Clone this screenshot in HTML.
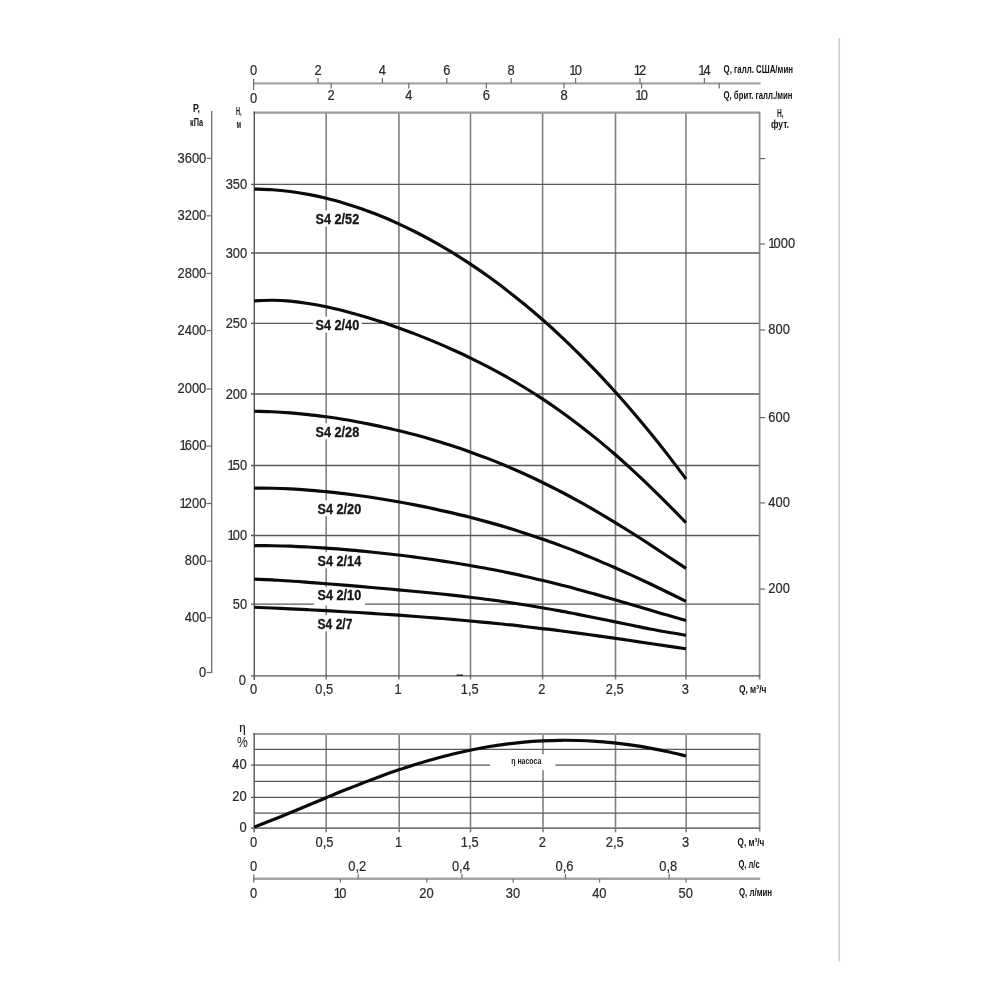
<!DOCTYPE html>
<html lang="ru"><head><meta charset="utf-8"><title>S4 2</title>
<style>
html,body{margin:0;padding:0;background:#fff;}
body{width:1000px;height:1000px;overflow:hidden;}
svg{display:block;font-family:"Liberation Sans",sans-serif;}
</style></head><body>
<svg width="1000" height="1000" viewBox="0 0 1000 1000">
<rect width="1000" height="1000" fill="#fff"/>
<line x1="839.3" y1="38" x2="839.3" y2="961.5" stroke="#cdcdcd" stroke-width="1.5"/>
<line x1="253.2" y1="83.39999999999999" x2="760.6" y2="83.39999999999999" stroke="#a4a4a4" stroke-width="2.4"/>
<line x1="253.6" y1="79" x2="253.6" y2="90" stroke="#6a6a6a" stroke-width="1.2"/>
<text transform="translate(253.6,75) scale(0.89,1)" text-anchor="middle" font-size="14.5" font-weight="normal" fill="#2b2b2b" stroke="#2b2b2b" stroke-width="0.22">0</text>
<line x1="318.0" y1="78" x2="318.0" y2="83.3" stroke="#6a6a6a" stroke-width="1.2"/>
<text transform="translate(318.0,75) scale(0.89,1)" text-anchor="middle" font-size="14.5" font-weight="normal" fill="#2b2b2b" stroke="#2b2b2b" stroke-width="0.22">2</text>
<line x1="382.4" y1="78" x2="382.4" y2="83.3" stroke="#6a6a6a" stroke-width="1.2"/>
<text transform="translate(382.4,75) scale(0.89,1)" text-anchor="middle" font-size="14.5" font-weight="normal" fill="#2b2b2b" stroke="#2b2b2b" stroke-width="0.22">4</text>
<line x1="446.8" y1="78" x2="446.8" y2="83.3" stroke="#6a6a6a" stroke-width="1.2"/>
<text transform="translate(446.8,75) scale(0.89,1)" text-anchor="middle" font-size="14.5" font-weight="normal" fill="#2b2b2b" stroke="#2b2b2b" stroke-width="0.22">6</text>
<line x1="511.20000000000005" y1="78" x2="511.20000000000005" y2="83.3" stroke="#6a6a6a" stroke-width="1.2"/>
<text transform="translate(511.2,75) scale(0.89,1)" text-anchor="middle" font-size="14.5" font-weight="normal" fill="#2b2b2b" stroke="#2b2b2b" stroke-width="0.22">8</text>
<line x1="575.6" y1="78" x2="575.6" y2="83.3" stroke="#6a6a6a" stroke-width="1.2"/>
<text transform="translate(575.6,75) scale(0.89,1)" text-anchor="middle" font-size="14.5" font-weight="normal" fill="#2b2b2b" stroke="#2b2b2b" stroke-width="0.22"><tspan letter-spacing="-2.1">1</tspan>0</text>
<line x1="640.0" y1="78" x2="640.0" y2="83.3" stroke="#6a6a6a" stroke-width="1.2"/>
<text transform="translate(640.0,75) scale(0.89,1)" text-anchor="middle" font-size="14.5" font-weight="normal" fill="#2b2b2b" stroke="#2b2b2b" stroke-width="0.22"><tspan letter-spacing="-2.1">1</tspan>2</text>
<line x1="704.4000000000001" y1="78" x2="704.4000000000001" y2="83.3" stroke="#6a6a6a" stroke-width="1.2"/>
<text transform="translate(704.4,75) scale(0.89,1)" text-anchor="middle" font-size="14.5" font-weight="normal" fill="#2b2b2b" stroke="#2b2b2b" stroke-width="0.22"><tspan letter-spacing="-2.1">1</tspan>4</text>
<text transform="translate(253.6,103) scale(0.89,1)" text-anchor="middle" font-size="14.5" font-weight="normal" fill="#2b2b2b" stroke="#2b2b2b" stroke-width="0.22">0</text>
<line x1="331.2" y1="83.3" x2="331.2" y2="88.5" stroke="#6a6a6a" stroke-width="1.2"/>
<text transform="translate(331.2,99.6) scale(0.89,1)" text-anchor="middle" font-size="14.5" font-weight="normal" fill="#2b2b2b" stroke="#2b2b2b" stroke-width="0.22">2</text>
<line x1="408.8" y1="83.3" x2="408.8" y2="88.5" stroke="#6a6a6a" stroke-width="1.2"/>
<text transform="translate(408.8,99.6) scale(0.89,1)" text-anchor="middle" font-size="14.5" font-weight="normal" fill="#2b2b2b" stroke="#2b2b2b" stroke-width="0.22">4</text>
<line x1="486.4" y1="83.3" x2="486.4" y2="88.5" stroke="#6a6a6a" stroke-width="1.2"/>
<text transform="translate(486.4,99.6) scale(0.89,1)" text-anchor="middle" font-size="14.5" font-weight="normal" fill="#2b2b2b" stroke="#2b2b2b" stroke-width="0.22">6</text>
<line x1="564.0" y1="83.3" x2="564.0" y2="88.5" stroke="#6a6a6a" stroke-width="1.2"/>
<text transform="translate(564.0,99.6) scale(0.89,1)" text-anchor="middle" font-size="14.5" font-weight="normal" fill="#2b2b2b" stroke="#2b2b2b" stroke-width="0.22">8</text>
<line x1="641.6" y1="83.3" x2="641.6" y2="88.5" stroke="#6a6a6a" stroke-width="1.2"/>
<text transform="translate(641.6,99.6) scale(0.89,1)" text-anchor="middle" font-size="14.5" font-weight="normal" fill="#2b2b2b" stroke="#2b2b2b" stroke-width="0.22"><tspan letter-spacing="-2.1">1</tspan>0</text>
<line x1="719.2" y1="83.3" x2="719.2" y2="88.5" stroke="#6a6a6a" stroke-width="1.2"/>
<text x="723.5" y="72.6" text-anchor="start" font-size="10.5" font-weight="bold" fill="#111" textLength="69.5" lengthAdjust="spacingAndGlyphs">Q, галл.  США/мин</text>
<text x="723.5" y="99.1" text-anchor="start" font-size="10.5" font-weight="bold" fill="#111" textLength="69" lengthAdjust="spacingAndGlyphs">Q, брит. галл./мин</text>
<text x="777" y="116.8" text-anchor="start" font-size="10.5" font-weight="bold" fill="#111" textLength="6.6" lengthAdjust="spacingAndGlyphs">Н,</text>
<text x="771" y="128" text-anchor="start" font-size="10" font-weight="bold" fill="#111" textLength="18" lengthAdjust="spacingAndGlyphs">фут.</text>
<line x1="326.2" y1="112.6" x2="326.2" y2="679.5" stroke="#808080" stroke-width="1.6"/>
<line x1="398.9" y1="112.6" x2="398.9" y2="679.5" stroke="#808080" stroke-width="1.6"/>
<line x1="470.5" y1="112.6" x2="470.5" y2="679.5" stroke="#808080" stroke-width="1.6"/>
<line x1="542.6" y1="112.6" x2="542.6" y2="679.5" stroke="#808080" stroke-width="1.6"/>
<line x1="615.5" y1="112.6" x2="615.5" y2="679.5" stroke="#808080" stroke-width="1.6"/>
<line x1="686" y1="112.6" x2="686" y2="679.5" stroke="#808080" stroke-width="1.6"/>
<line x1="251" y1="184.4" x2="759.6" y2="184.4" stroke="#585858" stroke-width="1.3"/>
<line x1="251" y1="253" x2="759.6" y2="253" stroke="#585858" stroke-width="1.3"/>
<line x1="251" y1="323.3" x2="759.6" y2="323.3" stroke="#585858" stroke-width="1.3"/>
<line x1="251" y1="394" x2="759.6" y2="394" stroke="#585858" stroke-width="1.3"/>
<line x1="251" y1="465.5" x2="759.6" y2="465.5" stroke="#585858" stroke-width="1.3"/>
<line x1="251" y1="535.5" x2="759.6" y2="535.5" stroke="#585858" stroke-width="1.3"/>
<line x1="251" y1="604.1" x2="759.6" y2="604.1" stroke="#585858" stroke-width="1.3"/>
<line x1="253.3" y1="112.6" x2="760.4" y2="112.6" stroke="#9a9a9a" stroke-width="2.2"/>
<line x1="759.6" y1="112.6" x2="759.6" y2="679.6" stroke="#878787" stroke-width="1.7"/>
<line x1="254.3" y1="111.6" x2="254.3" y2="680" stroke="#555" stroke-width="1.4"/>
<line x1="251" y1="675.8" x2="760.1" y2="675.8" stroke="#555" stroke-width="1.3"/>
<line x1="456.5" y1="675.2" x2="463" y2="675.2" stroke="#222" stroke-width="1.4"/>
<line x1="211.7" y1="111" x2="211.7" y2="673" stroke="#6a6a6a" stroke-width="1.3"/>
<line x1="206.5" y1="158.4" x2="211.7" y2="158.4" stroke="#6a6a6a" stroke-width="1.2"/>
<text transform="translate(206.3,162.5) scale(0.89,1)" text-anchor="end" font-size="14.5" font-weight="normal" fill="#2b2b2b" stroke="#2b2b2b" stroke-width="0.22">3600</text>
<line x1="206.5" y1="215.8" x2="211.7" y2="215.8" stroke="#6a6a6a" stroke-width="1.2"/>
<text transform="translate(206.3,219.9) scale(0.89,1)" text-anchor="end" font-size="14.5" font-weight="normal" fill="#2b2b2b" stroke="#2b2b2b" stroke-width="0.22">3200</text>
<line x1="206.5" y1="273.4" x2="211.7" y2="273.4" stroke="#6a6a6a" stroke-width="1.2"/>
<text transform="translate(206.3,277.5) scale(0.89,1)" text-anchor="end" font-size="14.5" font-weight="normal" fill="#2b2b2b" stroke="#2b2b2b" stroke-width="0.22">2800</text>
<line x1="206.5" y1="330.6" x2="211.7" y2="330.6" stroke="#6a6a6a" stroke-width="1.2"/>
<text transform="translate(206.3,334.7) scale(0.89,1)" text-anchor="end" font-size="14.5" font-weight="normal" fill="#2b2b2b" stroke="#2b2b2b" stroke-width="0.22">2400</text>
<line x1="206.5" y1="389" x2="211.7" y2="389" stroke="#6a6a6a" stroke-width="1.2"/>
<text transform="translate(206.3,393.1) scale(0.89,1)" text-anchor="end" font-size="14.5" font-weight="normal" fill="#2b2b2b" stroke="#2b2b2b" stroke-width="0.22">2000</text>
<line x1="206.5" y1="446.1" x2="211.7" y2="446.1" stroke="#6a6a6a" stroke-width="1.2"/>
<text transform="translate(206.3,450.2) scale(0.89,1)" text-anchor="end" font-size="14.5" font-weight="normal" fill="#2b2b2b" stroke="#2b2b2b" stroke-width="0.22"><tspan letter-spacing="-2.1">1</tspan>600</text>
<line x1="206.5" y1="503.5" x2="211.7" y2="503.5" stroke="#6a6a6a" stroke-width="1.2"/>
<text transform="translate(206.3,507.6) scale(0.89,1)" text-anchor="end" font-size="14.5" font-weight="normal" fill="#2b2b2b" stroke="#2b2b2b" stroke-width="0.22"><tspan letter-spacing="-2.1">1</tspan>200</text>
<line x1="206.5" y1="561.2" x2="211.7" y2="561.2" stroke="#6a6a6a" stroke-width="1.2"/>
<text transform="translate(206.3,565.3) scale(0.89,1)" text-anchor="end" font-size="14.5" font-weight="normal" fill="#2b2b2b" stroke="#2b2b2b" stroke-width="0.22">800</text>
<line x1="206.5" y1="617.8" x2="211.7" y2="617.8" stroke="#6a6a6a" stroke-width="1.2"/>
<text transform="translate(206.3,621.9) scale(0.89,1)" text-anchor="end" font-size="14.5" font-weight="normal" fill="#2b2b2b" stroke="#2b2b2b" stroke-width="0.22">400</text>
<line x1="206.5" y1="672.5" x2="211.7" y2="672.5" stroke="#6a6a6a" stroke-width="1.2"/>
<text transform="translate(206.3,676.6) scale(0.89,1)" text-anchor="end" font-size="14.5" font-weight="normal" fill="#2b2b2b" stroke="#2b2b2b" stroke-width="0.22">0</text>
<text x="196.5" y="112" text-anchor="middle" font-size="10" font-weight="bold" fill="#111" textLength="7" lengthAdjust="spacingAndGlyphs">Р,</text>
<text x="196.5" y="126" text-anchor="middle" font-size="10" font-weight="bold" fill="#111" textLength="13" lengthAdjust="spacingAndGlyphs">кПа</text>
<text transform="translate(247.2,189.1) scale(0.89,1)" text-anchor="end" font-size="14.5" font-weight="normal" fill="#2b2b2b" stroke="#2b2b2b" stroke-width="0.22">350</text>
<text transform="translate(247.2,257.7) scale(0.89,1)" text-anchor="end" font-size="14.5" font-weight="normal" fill="#2b2b2b" stroke="#2b2b2b" stroke-width="0.22">300</text>
<text transform="translate(247.2,328.0) scale(0.89,1)" text-anchor="end" font-size="14.5" font-weight="normal" fill="#2b2b2b" stroke="#2b2b2b" stroke-width="0.22">250</text>
<text transform="translate(247.2,398.7) scale(0.89,1)" text-anchor="end" font-size="14.5" font-weight="normal" fill="#2b2b2b" stroke="#2b2b2b" stroke-width="0.22">200</text>
<text transform="translate(247.2,470.2) scale(0.89,1)" text-anchor="end" font-size="14.5" font-weight="normal" fill="#2b2b2b" stroke="#2b2b2b" stroke-width="0.22"><tspan letter-spacing="-2.1">1</tspan>50</text>
<text transform="translate(247.2,540.2) scale(0.89,1)" text-anchor="end" font-size="14.5" font-weight="normal" fill="#2b2b2b" stroke="#2b2b2b" stroke-width="0.22"><tspan letter-spacing="-2.1">1</tspan>00</text>
<text transform="translate(247.2,608.8) scale(0.89,1)" text-anchor="end" font-size="14.5" font-weight="normal" fill="#2b2b2b" stroke="#2b2b2b" stroke-width="0.22">50</text>
<text transform="translate(246,684.5) scale(0.89,1)" text-anchor="end" font-size="14.5" font-weight="normal" fill="#2b2b2b" stroke="#2b2b2b" stroke-width="0.22">0</text>
<text x="238.8" y="115.4" text-anchor="middle" font-size="10.5" font-weight="bold" fill="#111" textLength="5.6" lengthAdjust="spacingAndGlyphs">Н,</text>
<text x="238.8" y="127.8" text-anchor="middle" font-size="10.5" font-weight="bold" fill="#111" textLength="4.6" lengthAdjust="spacingAndGlyphs">м</text>
<line x1="760" y1="158.6" x2="765.2" y2="158.6" stroke="#6a6a6a" stroke-width="1.2"/>
<line x1="760" y1="244" x2="765.2" y2="244" stroke="#6a6a6a" stroke-width="1.2"/>
<text transform="translate(768.3,247.9) scale(0.89,1)" text-anchor="start" font-size="14.5" font-weight="normal" fill="#2b2b2b" stroke="#2b2b2b" stroke-width="0.22"><tspan letter-spacing="-2.1">1</tspan>000</text>
<line x1="760" y1="330" x2="765.2" y2="330" stroke="#6a6a6a" stroke-width="1.2"/>
<text transform="translate(768.3,333.9) scale(0.89,1)" text-anchor="start" font-size="14.5" font-weight="normal" fill="#2b2b2b" stroke="#2b2b2b" stroke-width="0.22">800</text>
<line x1="760" y1="417.6" x2="765.2" y2="417.6" stroke="#6a6a6a" stroke-width="1.2"/>
<text transform="translate(768.3,421.5) scale(0.89,1)" text-anchor="start" font-size="14.5" font-weight="normal" fill="#2b2b2b" stroke="#2b2b2b" stroke-width="0.22">600</text>
<line x1="760" y1="502.9" x2="765.2" y2="502.9" stroke="#6a6a6a" stroke-width="1.2"/>
<text transform="translate(768.3,506.8) scale(0.89,1)" text-anchor="start" font-size="14.5" font-weight="normal" fill="#2b2b2b" stroke="#2b2b2b" stroke-width="0.22">400</text>
<line x1="760" y1="589.1" x2="765.2" y2="589.1" stroke="#6a6a6a" stroke-width="1.2"/>
<text transform="translate(768.3,593.0) scale(0.89,1)" text-anchor="start" font-size="14.5" font-weight="normal" fill="#2b2b2b" stroke="#2b2b2b" stroke-width="0.22">200</text>
<text transform="translate(253.6,693.8) scale(0.89,1)" text-anchor="middle" font-size="14.5" font-weight="normal" fill="#2b2b2b" stroke="#2b2b2b" stroke-width="0.22">0</text>
<text transform="translate(324.3,693.8) scale(0.89,1)" text-anchor="middle" font-size="14.5" font-weight="normal" fill="#2b2b2b" stroke="#2b2b2b" stroke-width="0.22">0,5</text>
<text transform="translate(398.2,693.8) scale(0.89,1)" text-anchor="middle" font-size="14.5" font-weight="normal" fill="#2b2b2b" stroke="#2b2b2b" stroke-width="0.22">1</text>
<text transform="translate(469.8,693.8) scale(0.89,1)" text-anchor="middle" font-size="14.5" font-weight="normal" fill="#2b2b2b" stroke="#2b2b2b" stroke-width="0.22">1,5</text>
<text transform="translate(541.9,693.8) scale(0.89,1)" text-anchor="middle" font-size="14.5" font-weight="normal" fill="#2b2b2b" stroke="#2b2b2b" stroke-width="0.22">2</text>
<text transform="translate(614.8,693.8) scale(0.89,1)" text-anchor="middle" font-size="14.5" font-weight="normal" fill="#2b2b2b" stroke="#2b2b2b" stroke-width="0.22">2,5</text>
<text transform="translate(685.3,693.8) scale(0.89,1)" text-anchor="middle" font-size="14.5" font-weight="normal" fill="#2b2b2b" stroke="#2b2b2b" stroke-width="0.22">3</text>
<text x="738.9" y="693" text-anchor="start" font-size="10.5" font-weight="bold" fill="#111" textLength="27.5" lengthAdjust="spacingAndGlyphs">Q, м³/ч</text>
<rect x="313.1" y="210.7" width="48.6" height="16" fill="#fff"/>
<rect x="313.1" y="316.6" width="48.6" height="16" fill="#fff"/>
<rect x="313.1" y="423.3" width="48.6" height="16" fill="#fff"/>
<rect x="315.1" y="500.3" width="48.6" height="16" fill="#fff"/>
<rect x="315.1" y="552.3" width="48.6" height="16" fill="#fff"/>
<rect x="315.1" y="587.2" width="48.6" height="16" fill="#fff"/>
<rect x="315.1" y="615.3" width="39.8" height="16" fill="#fff"/>
<rect x="313.8" y="589" width="51.2" height="16.5" fill="#fff"/>
<path d="M254.2,189.08C257.2,189.2 266.2,189.3 272.2,189.76C278.2,190.2 284.2,190.8 290.2,191.54C296.2,192.3 302.2,193.3 308.2,194.39C314.2,195.5 320.2,196.8 326.2,198.27C332.2,199.7 338.2,201.4 344.2,203.14C350.2,204.9 356.2,206.9 362.2,209.0C368.2,211.1 374.1,213.4 380.1,215.81C386.1,218.2 392.1,220.8 398.1,223.57C404.1,226.3 410.1,229.2 416.1,232.26C422.1,235.3 428.1,238.5 434.1,241.88C440.1,245.2 446.1,248.8 452.1,252.43C458.1,256.1 464.1,259.9 470.1,263.91C476.1,267.9 482.1,272.0 488.1,276.32C494.1,280.6 500.1,285.1 506.1,289.68C512.1,294.3 518.1,299.1 524.1,303.99C530.1,308.9 536.1,314.0 542.1,319.28C548.1,324.5 554.1,330.0 560.1,335.55C566.1,341.1 572.0,346.9 578.0,352.83C584.0,358.8 590.0,364.9 596.0,371.13C602.0,377.4 608.0,383.9 614.0,390.49C620.0,397.1 626.0,403.9 632.0,410.93C638.0,417.9 644.0,425.1 650.0,432.46C656.0,439.8 662.0,447.4 668.0,455.13C674.0,462.9 683.0,475.0 686.0,478.95" fill="none" stroke="#0a0a0a" stroke-width="3.15"/>
<path d="M254.2,300.88C257.2,300.8 266.2,300.2 272.2,300.22C278.2,300.3 284.2,300.6 290.2,301.17C296.2,301.7 302.2,302.5 308.2,303.44C314.2,304.4 320.2,305.5 326.2,306.78C332.2,308.0 338.2,309.5 344.2,311.0C350.2,312.5 356.2,314.2 362.2,315.95C368.2,317.7 374.1,319.6 380.1,321.54C386.1,323.5 392.1,325.6 398.1,327.7C404.1,329.8 410.1,332.1 416.1,334.4C422.1,336.7 428.1,339.1 434.1,341.64C440.1,344.1 446.1,346.7 452.1,349.45C458.1,352.2 464.1,354.9 470.1,357.86C476.1,360.8 482.1,363.8 488.1,366.93C494.1,370.1 500.1,373.3 506.1,376.71C512.1,380.1 518.1,383.6 524.1,387.27C530.1,390.9 536.1,394.7 542.1,398.67C548.1,402.6 554.1,406.7 560.1,410.96C566.1,415.2 572.0,419.6 578.0,424.19C584.0,428.8 590.0,433.5 596.0,438.38C602.0,443.3 608.0,448.3 614.0,453.53C620.0,458.7 626.0,464.1 632.0,469.62C638.0,475.1 644.0,480.8 650.0,486.59C656.0,492.4 662.0,498.3 668.0,504.34C674.0,510.4 683.0,519.7 686.0,522.75" fill="none" stroke="#0a0a0a" stroke-width="3.15"/>
<path d="M254.2,411.29C257.2,411.4 266.2,411.5 272.2,411.75C278.2,412.0 284.2,412.4 290.2,412.87C296.2,413.3 302.2,413.9 308.2,414.57C314.2,415.2 320.2,416.0 326.2,416.8C332.2,417.6 338.2,418.5 344.2,419.52C350.2,420.5 356.2,421.6 362.2,422.71C368.2,423.9 374.1,425.1 380.1,426.37C386.1,427.7 392.1,429.0 398.1,430.49C404.1,431.9 410.1,433.5 416.1,435.09C422.1,436.7 428.1,438.4 434.1,440.18C440.1,442.0 446.1,443.8 452.1,445.78C458.1,447.7 464.1,449.8 470.1,451.92C476.1,454.1 482.1,456.3 488.1,458.62C494.1,460.9 500.1,463.4 506.1,465.89C512.1,468.4 518.1,471.0 524.1,473.75C530.1,476.5 536.1,479.3 542.1,482.21C548.1,485.1 554.1,488.2 560.1,491.27C566.1,494.4 572.0,497.6 578.0,500.92C584.0,504.2 590.0,507.6 596.0,511.12C602.0,514.6 608.0,518.2 614.0,521.85C620.0,525.5 626.0,529.2 632.0,533.03C638.0,536.8 644.0,540.7 650.0,544.59C656.0,548.5 662.0,552.5 668.0,556.44C674.0,560.4 683.0,566.4 686.0,568.43" fill="none" stroke="#0a0a0a" stroke-width="3.15"/>
<path d="M254.2,488.15C257.2,488.2 266.2,488.1 272.2,488.25C278.2,488.4 284.2,488.6 290.2,488.92C296.2,489.2 302.2,489.6 308.2,490.08C314.2,490.5 320.2,491.1 326.2,491.68C332.2,492.3 338.2,492.9 344.2,493.67C350.2,494.4 356.2,495.2 362.2,496.02C368.2,496.9 374.1,497.8 380.1,498.72C386.1,499.7 392.1,500.7 398.1,501.76C404.1,502.8 410.1,503.9 416.1,505.13C422.1,506.3 428.1,507.5 434.1,508.84C440.1,510.1 446.1,511.5 452.1,512.9C458.1,514.3 464.1,515.8 470.1,517.32C476.1,518.9 482.1,520.5 488.1,522.12C494.1,523.8 500.1,525.5 506.1,527.32C512.1,529.1 518.1,531.0 524.1,532.92C530.1,534.9 536.1,536.9 542.1,538.95C548.1,541.0 554.1,543.2 560.1,545.39C566.1,547.6 572.0,549.9 578.0,552.27C584.0,554.6 590.0,557.1 596.0,559.56C602.0,562.1 608.0,564.6 614.0,567.26C620.0,569.9 626.0,572.6 632.0,575.34C638.0,578.1 644.0,580.9 650.0,583.76C656.0,586.6 662.0,589.5 668.0,592.46C674.0,595.4 683.0,599.9 686.0,601.39" fill="none" stroke="#0a0a0a" stroke-width="3.15"/>
<path d="M254.2,545.7C257.2,545.7 266.2,545.6 272.2,545.7C278.2,545.8 284.2,545.9 290.2,546.15C296.2,546.4 302.2,546.6 308.2,546.97C314.2,547.3 320.2,547.7 326.2,548.1C332.2,548.5 338.2,549.0 344.2,549.49C350.2,550.0 356.2,550.5 362.2,551.11C368.2,551.7 374.1,552.3 380.1,552.95C386.1,553.6 392.1,554.3 398.1,555.01C404.1,555.7 410.1,556.5 416.1,557.28C422.1,558.1 428.1,558.9 434.1,559.78C440.1,560.7 446.1,561.6 452.1,562.52C458.1,563.5 464.1,564.5 470.1,565.52C476.1,566.6 482.1,567.6 488.1,568.78C494.1,569.9 500.1,571.1 506.1,572.33C512.1,573.6 518.1,574.8 524.1,576.18C530.1,577.5 536.1,578.9 542.1,580.32C548.1,581.7 554.1,583.2 560.1,584.74C566.1,586.3 572.0,587.8 578.0,589.44C584.0,591.0 590.0,592.7 596.0,594.38C602.0,596.1 608.0,597.8 614.0,599.52C620.0,601.3 626.0,603.0 632.0,604.79C638.0,606.6 644.0,608.3 650.0,610.1C656.0,611.9 662.0,613.6 668.0,615.36C674.0,617.1 683.0,619.6 686.0,620.44" fill="none" stroke="#0a0a0a" stroke-width="3.15"/>
<path d="M254.2,579.06C257.2,579.2 266.2,579.6 272.2,579.93C278.2,580.3 284.2,580.6 290.2,581.05C296.2,581.4 302.2,581.9 308.2,582.33C314.2,582.8 320.2,583.2 326.2,583.71C332.2,584.2 338.2,584.7 344.2,585.16C350.2,585.7 356.2,586.2 362.2,586.66C368.2,587.2 374.1,587.7 380.1,588.2C386.1,588.7 392.1,589.3 398.1,589.81C404.1,590.4 410.1,590.9 416.1,591.48C422.1,592.1 428.1,592.7 434.1,593.27C440.1,593.9 446.1,594.5 452.1,595.18C458.1,595.8 464.1,596.5 470.1,597.26C476.1,598.0 482.1,598.7 488.1,599.53C494.1,600.3 500.1,601.1 506.1,602.02C512.1,602.9 518.1,603.8 524.1,604.75C530.1,605.7 536.1,606.7 542.1,607.71C548.1,608.7 554.1,609.8 560.1,610.92C566.1,612.0 572.0,613.2 578.0,614.33C584.0,615.5 590.0,616.7 596.0,617.92C602.0,619.1 608.0,620.4 614.0,621.61C620.0,622.8 626.0,624.1 632.0,625.32C638.0,626.5 644.0,627.8 650.0,628.94C656.0,630.1 662.0,631.3 668.0,632.32C674.0,633.4 683.0,634.8 686.0,635.28" fill="none" stroke="#0a0a0a" stroke-width="3.15"/>
<path d="M254.2,607.3C257.2,607.4 266.2,607.7 272.2,608.0C278.2,608.3 284.2,608.5 290.2,608.81C296.2,609.1 302.2,609.4 308.2,609.7C314.2,610.0 320.2,610.3 326.2,610.67C332.2,611.0 338.2,611.3 344.2,611.7C350.2,612.1 356.2,612.4 362.2,612.79C368.2,613.2 374.1,613.6 380.1,613.95C386.1,614.3 392.1,614.8 398.1,615.18C404.1,615.6 410.1,616.0 416.1,616.48C422.1,616.9 428.1,617.4 434.1,617.87C440.1,618.4 446.1,618.8 452.1,619.36C458.1,619.9 464.1,620.4 470.1,620.96C476.1,621.5 482.1,622.1 488.1,622.67C494.1,623.3 500.1,623.9 506.1,624.51C512.1,625.1 518.1,625.8 524.1,626.48C530.1,627.2 536.1,627.9 542.1,628.58C548.1,629.3 554.1,630.0 560.1,630.8C566.1,631.6 572.0,632.4 578.0,633.16C584.0,634.0 590.0,634.8 596.0,635.62C602.0,636.5 608.0,637.3 614.0,638.18C620.0,639.0 626.0,639.9 632.0,640.81C638.0,641.7 644.0,642.6 650.0,643.46C656.0,644.3 662.0,645.2 668.0,646.11C674.0,647.0 683.0,648.3 686.0,648.69" fill="none" stroke="#0a0a0a" stroke-width="3.15"/>
<text x="315.6" y="223.9" text-anchor="start" font-size="14" font-weight="bold" fill="#161616" textLength="43.6" lengthAdjust="spacingAndGlyphs" stroke="#161616" stroke-width="0.3">S4 2/52</text>
<text x="315.6" y="329.8" text-anchor="start" font-size="14" font-weight="bold" fill="#161616" textLength="43.6" lengthAdjust="spacingAndGlyphs" stroke="#161616" stroke-width="0.3">S4 2/40</text>
<text x="315.6" y="436.5" text-anchor="start" font-size="14" font-weight="bold" fill="#161616" textLength="43.6" lengthAdjust="spacingAndGlyphs" stroke="#161616" stroke-width="0.3">S4 2/28</text>
<text x="317.6" y="513.5" text-anchor="start" font-size="14" font-weight="bold" fill="#161616" textLength="43.6" lengthAdjust="spacingAndGlyphs" stroke="#161616" stroke-width="0.3">S4 2/20</text>
<text x="317.6" y="565.5" text-anchor="start" font-size="14" font-weight="bold" fill="#161616" textLength="43.6" lengthAdjust="spacingAndGlyphs" stroke="#161616" stroke-width="0.3">S4 2/14</text>
<text x="317.6" y="600.4" text-anchor="start" font-size="14" font-weight="bold" fill="#161616" textLength="43.6" lengthAdjust="spacingAndGlyphs" stroke="#161616" stroke-width="0.3">S4 2/10</text>
<text x="317.6" y="628.5" text-anchor="start" font-size="14" font-weight="bold" fill="#161616" textLength="34.8" lengthAdjust="spacingAndGlyphs" stroke="#161616" stroke-width="0.3">S4 2/7</text>
<line x1="326.2" y1="734" x2="326.2" y2="832.3" stroke="#808080" stroke-width="1.6"/>
<line x1="399.2" y1="734" x2="399.2" y2="832.3" stroke="#808080" stroke-width="1.6"/>
<line x1="470.5" y1="734" x2="470.5" y2="832.3" stroke="#808080" stroke-width="1.6"/>
<line x1="543" y1="734" x2="543" y2="832.3" stroke="#808080" stroke-width="1.6"/>
<line x1="615.5" y1="734" x2="615.5" y2="832.3" stroke="#808080" stroke-width="1.6"/>
<line x1="686.2" y1="734" x2="686.2" y2="832.3" stroke="#808080" stroke-width="1.6"/>
<line x1="254.2" y1="749.4" x2="759.6" y2="749.4" stroke="#585858" stroke-width="1.3"/>
<line x1="251" y1="765.2" x2="759.6" y2="765.2" stroke="#585858" stroke-width="1.3"/>
<line x1="254.2" y1="781.4" x2="759.6" y2="781.4" stroke="#585858" stroke-width="1.3"/>
<line x1="251" y1="797.4" x2="759.6" y2="797.4" stroke="#585858" stroke-width="1.3"/>
<line x1="254.2" y1="813.2" x2="759.6" y2="813.2" stroke="#585858" stroke-width="1.3"/>
<line x1="253.2" y1="734" x2="760.4" y2="734" stroke="#9a9a9a" stroke-width="2.2"/>
<line x1="759.6" y1="734" x2="759.6" y2="831.5" stroke="#878787" stroke-width="1.7"/>
<line x1="254.2" y1="733" x2="254.2" y2="832.3" stroke="#555" stroke-width="1.4"/>
<line x1="251" y1="828.1999999999999" x2="760.1" y2="828.1999999999999" stroke="#777" stroke-width="1.7"/>
<rect x="490" y="754.2" width="65.2" height="16" fill="#fff"/>
<path d="M254.2,827.15C257.2,826.0 266.2,822.5 272.2,820.08C278.2,817.7 284.2,815.2 290.2,812.7C296.2,810.2 302.2,807.7 308.2,805.19C314.2,802.7 320.2,800.2 326.2,797.69C332.2,795.2 338.2,792.7 344.2,790.32C350.2,787.9 356.2,785.5 362.2,783.2C368.2,780.9 374.1,778.6 380.1,776.42C386.1,774.2 392.1,772.1 398.1,770.07C404.1,768.0 410.1,766.1 416.1,764.22C422.1,762.4 428.1,760.6 434.1,758.92C440.1,757.3 446.1,755.7 452.1,754.23C458.1,752.8 464.1,751.4 470.1,750.18C476.1,748.9 482.1,747.8 488.1,746.8C494.1,745.8 500.1,744.9 506.1,744.11C512.1,743.3 518.1,742.7 524.1,742.13C530.1,741.6 536.1,741.2 542.1,740.86C548.1,740.6 554.1,740.4 560.1,740.31C566.1,740.2 572.0,740.3 578.0,740.47C584.0,740.6 590.0,740.9 596.0,741.34C602.0,741.7 608.0,742.3 614.0,742.91C620.0,743.5 626.0,744.3 632.0,745.17C638.0,746.0 644.0,747.0 650.0,748.11C656.0,749.2 662.0,750.4 668.0,751.72C674.0,753.0 683.0,755.3 686.0,755.99" fill="none" stroke="#0a0a0a" stroke-width="3.15"/>
<text x="511.2" y="763.8" text-anchor="start" font-size="8.5" font-weight="bold" fill="#1a1a1a" textLength="30.2" lengthAdjust="spacingAndGlyphs">η насоса</text>
<text transform="translate(242.4,732.3) scale(0.89,1)" text-anchor="middle" font-size="13" font-weight="normal" fill="#161616" stroke="#161616" stroke-width="0.22">η</text>
<text x="242.5" y="747.1" text-anchor="middle" font-size="14" font-weight="normal" fill="#161616" textLength="10.8" lengthAdjust="spacingAndGlyphs">%</text>
<text transform="translate(246.6,769.1) scale(0.89,1)" text-anchor="end" font-size="14.5" font-weight="normal" fill="#2b2b2b" stroke="#2b2b2b" stroke-width="0.22">40</text>
<text transform="translate(246.6,801.3) scale(0.89,1)" text-anchor="end" font-size="14.5" font-weight="normal" fill="#2b2b2b" stroke="#2b2b2b" stroke-width="0.22">20</text>
<text transform="translate(246.6,832.3) scale(0.89,1)" text-anchor="end" font-size="14.5" font-weight="normal" fill="#2b2b2b" stroke="#2b2b2b" stroke-width="0.22">0</text>
<text transform="translate(253.5,847.3) scale(0.89,1)" text-anchor="middle" font-size="14.5" font-weight="normal" fill="#2b2b2b" stroke="#2b2b2b" stroke-width="0.22">0</text>
<text transform="translate(324.5,847.3) scale(0.89,1)" text-anchor="middle" font-size="14.5" font-weight="normal" fill="#2b2b2b" stroke="#2b2b2b" stroke-width="0.22">0,5</text>
<text transform="translate(398.5,847.3) scale(0.89,1)" text-anchor="middle" font-size="14.5" font-weight="normal" fill="#2b2b2b" stroke="#2b2b2b" stroke-width="0.22">1</text>
<text transform="translate(469.8,847.3) scale(0.89,1)" text-anchor="middle" font-size="14.5" font-weight="normal" fill="#2b2b2b" stroke="#2b2b2b" stroke-width="0.22">1,5</text>
<text transform="translate(542.3,847.3) scale(0.89,1)" text-anchor="middle" font-size="14.5" font-weight="normal" fill="#2b2b2b" stroke="#2b2b2b" stroke-width="0.22">2</text>
<text transform="translate(614.8,847.3) scale(0.89,1)" text-anchor="middle" font-size="14.5" font-weight="normal" fill="#2b2b2b" stroke="#2b2b2b" stroke-width="0.22">2,5</text>
<text transform="translate(685.5,847.3) scale(0.89,1)" text-anchor="middle" font-size="14.5" font-weight="normal" fill="#2b2b2b" stroke="#2b2b2b" stroke-width="0.22">3</text>
<text x="737.6" y="846" text-anchor="start" font-size="10.5" font-weight="bold" fill="#111" textLength="26.5" lengthAdjust="spacingAndGlyphs">Q, м³/ч</text>
<line x1="253.2" y1="878.7" x2="760.2" y2="878.7" stroke="#a4a4a4" stroke-width="2.4"/>
<line x1="253.8" y1="874.5" x2="253.8" y2="882.6" stroke="#6a6a6a" stroke-width="1.2"/>
<text transform="translate(253.5,870.6) scale(0.89,1)" text-anchor="middle" font-size="14.5" font-weight="normal" fill="#2b2b2b" stroke="#2b2b2b" stroke-width="0.22">0</text>
<line x1="358.2" y1="873.8" x2="358.2" y2="878.7" stroke="#6a6a6a" stroke-width="1.2"/>
<text transform="translate(357.2,870.6) scale(0.89,1)" text-anchor="middle" font-size="14.5" font-weight="normal" fill="#2b2b2b" stroke="#2b2b2b" stroke-width="0.22">0,2</text>
<line x1="461.9" y1="873.8" x2="461.9" y2="878.7" stroke="#6a6a6a" stroke-width="1.2"/>
<text transform="translate(460.9,870.6) scale(0.89,1)" text-anchor="middle" font-size="14.5" font-weight="normal" fill="#2b2b2b" stroke="#2b2b2b" stroke-width="0.22">0,4</text>
<line x1="565.5" y1="873.8" x2="565.5" y2="878.7" stroke="#6a6a6a" stroke-width="1.2"/>
<text transform="translate(564.5,870.6) scale(0.89,1)" text-anchor="middle" font-size="14.5" font-weight="normal" fill="#2b2b2b" stroke="#2b2b2b" stroke-width="0.22">0,6</text>
<line x1="669.2" y1="873.8" x2="669.2" y2="878.7" stroke="#6a6a6a" stroke-width="1.2"/>
<text transform="translate(668.2,870.6) scale(0.89,1)" text-anchor="middle" font-size="14.5" font-weight="normal" fill="#2b2b2b" stroke="#2b2b2b" stroke-width="0.22">0,8</text>
<text transform="translate(253.7,897.6) scale(0.89,1)" text-anchor="middle" font-size="14.5" font-weight="normal" fill="#2b2b2b" stroke="#2b2b2b" stroke-width="0.22">0</text>
<line x1="340.4" y1="878.7" x2="340.4" y2="882.6" stroke="#6a6a6a" stroke-width="1.2"/>
<text transform="translate(340.09999999999997,897.6) scale(0.89,1)" text-anchor="middle" font-size="14.5" font-weight="normal" fill="#2b2b2b" stroke="#2b2b2b" stroke-width="0.22"><tspan letter-spacing="-2.1">1</tspan>0</text>
<line x1="426.8" y1="878.7" x2="426.8" y2="882.6" stroke="#6a6a6a" stroke-width="1.2"/>
<text transform="translate(426.5,897.6) scale(0.89,1)" text-anchor="middle" font-size="14.5" font-weight="normal" fill="#2b2b2b" stroke="#2b2b2b" stroke-width="0.22">20</text>
<line x1="513.2" y1="878.7" x2="513.2" y2="882.6" stroke="#6a6a6a" stroke-width="1.2"/>
<text transform="translate(512.9000000000001,897.6) scale(0.89,1)" text-anchor="middle" font-size="14.5" font-weight="normal" fill="#2b2b2b" stroke="#2b2b2b" stroke-width="0.22">30</text>
<line x1="599.6" y1="878.7" x2="599.6" y2="882.6" stroke="#6a6a6a" stroke-width="1.2"/>
<text transform="translate(599.3000000000001,897.6) scale(0.89,1)" text-anchor="middle" font-size="14.5" font-weight="normal" fill="#2b2b2b" stroke="#2b2b2b" stroke-width="0.22">40</text>
<line x1="686.0" y1="878.7" x2="686.0" y2="882.6" stroke="#6a6a6a" stroke-width="1.2"/>
<text transform="translate(685.7,897.6) scale(0.89,1)" text-anchor="middle" font-size="14.5" font-weight="normal" fill="#2b2b2b" stroke="#2b2b2b" stroke-width="0.22">50</text>
<text x="738.4" y="868" text-anchor="start" font-size="10.5" font-weight="bold" fill="#111" textLength="21.2" lengthAdjust="spacingAndGlyphs">Q, л/с</text>
<text x="739" y="896" text-anchor="start" font-size="10.5" font-weight="bold" fill="#111" textLength="33" lengthAdjust="spacingAndGlyphs">Q, л/мин</text>
</svg>
</body></html>
